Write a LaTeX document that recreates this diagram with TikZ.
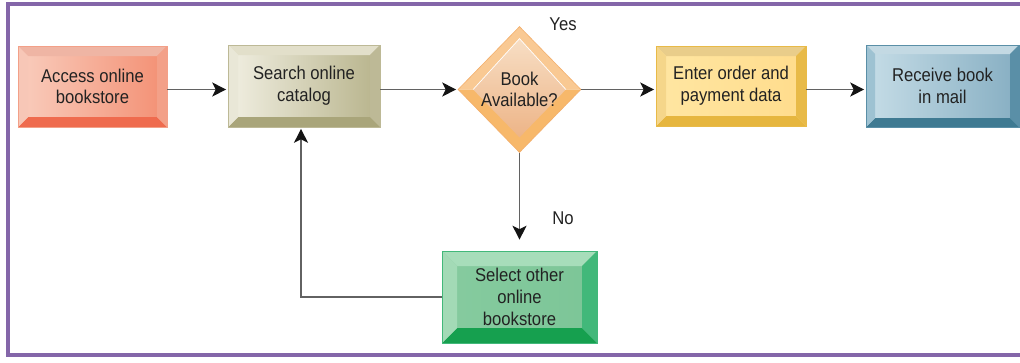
\documentclass[tikz,border=0pt]{standalone}
\usepackage{fontspec}
\setmainfont[FakeStretch=0.9]{Liberation Sans}
\usetikzlibrary{arrows.meta,shapes.geometric}
\definecolor{frame}{HTML}{8466A9}
\definecolor{txt}{HTML}{222222}
\definecolor{lin}{HTML}{626262}
\definecolor{arh}{HTML}{141414}
% red
\definecolor{rFL}{HTML}{F9CDBD}\definecolor{rFR}{HTML}{F38F73}\definecolor{rT}{HTML}{EFB5A4}
\definecolor{rB}{HTML}{EF6B4E}\definecolor{rL}{HTML}{F7C7B7}\definecolor{rR}{HTML}{F3A088}
% olive
\definecolor{oFL}{HTML}{F1EFE2}\definecolor{oFR}{HTML}{B7B38B}\definecolor{oT}{HTML}{E2DFCA}
\definecolor{oB}{HTML}{A9A57A}\definecolor{oL}{HTML}{E9E7D7}\definecolor{oR}{HTML}{BDB996}
% yellow
\definecolor{yFL}{HTML}{FFE6A2}\definecolor{yFR}{HTML}{FFDC8C}\definecolor{yT}{HTML}{E9CD8A}
\definecolor{yB}{HTML}{E6B63F}\definecolor{yL}{HTML}{F5D68A}\definecolor{yR}{HTML}{E8BA48}
% blue
\definecolor{bFL}{HTML}{C6DDE7}\definecolor{bFR}{HTML}{86AEC2}\definecolor{bT}{HTML}{C3D9E3}
\definecolor{bB}{HTML}{3F7A92}\definecolor{bL}{HTML}{9EC2D2}\definecolor{bR}{HTML}{5A8FA7}
% green
\definecolor{gFL}{HTML}{86CB9F}\definecolor{gFR}{HTML}{7CC597}\definecolor{gT}{HTML}{A7DDBA}
\definecolor{gB}{HTML}{16A04F}\definecolor{gL}{HTML}{A3DAB6}\definecolor{gR}{HTML}{42B87A}
% diamond
\definecolor{dT}{HTML}{F9C993}\definecolor{dB}{HTML}{F7B86A}\definecolor{dIT}{HTML}{F7DEC4}
\definecolor{dIB}{HTML}{EDB487}\definecolor{dE}{HTML}{F3AE6A}
\tikzset{
  lbl/.style={font=\fontsize{18.5}{21.7}\selectfont, text=txt, align=center},
  bev/.style n args={7}{rectangle, inner sep=0pt, lbl, draw=#6, line width=0.6pt,
    path picture={
      \shade[left color=#1, right color=#2] (path picture bounding box.south west) rectangle (path picture bounding box.north east);
      \fill[#3] (path picture bounding box.north west) -- (path picture bounding box.north east)
        -- ([shift={(-#7,-#7)}]path picture bounding box.north east) -- ([shift={(#7,-#7)}]path picture bounding box.north west) -- cycle;
      \fill[#4] (path picture bounding box.south west) -- (path picture bounding box.south east)
        -- ([shift={(-#7,#7)}]path picture bounding box.south east) -- ([shift={(#7,#7)}]path picture bounding box.south west) -- cycle;
      \fill[#5] (path picture bounding box.north west) -- (path picture bounding box.south west)
        -- ([shift={(#7,#7)}]path picture bounding box.south west) -- ([shift={(#7,-#7)}]path picture bounding box.north west) -- cycle;
      \fill[#6] (path picture bounding box.north east) -- (path picture bounding box.south east)
        -- ([shift={(-#7,#7)}]path picture bounding box.south east) -- ([shift={(-#7,-#7)}]path picture bounding box.north east) -- cycle;
    }},
  decision/.style={diamond, inner sep=0pt, lbl, draw=dE, line width=0.6pt,
    path picture={
      \fill[dT] (path picture bounding box.west) -- (path picture bounding box.north) -- (path picture bounding box.east) -- cycle;
      \fill[dB] (path picture bounding box.west) -- (path picture bounding box.south) -- (path picture bounding box.east) -- cycle;
      \shade[top color=dIT, bottom color=dIB] ([xshift=15pt]path picture bounding box.west) -- ([yshift=-12pt]path picture bounding box.north)
        -- ([xshift=-15pt]path picture bounding box.east) -- ([yshift=15pt]path picture bounding box.south) -- cycle;
      \draw[white, line width=0.7pt] ([xshift=15pt]path picture bounding box.west) -- ([yshift=-12pt]path picture bounding box.north)
        -- ([xshift=-15pt]path picture bounding box.east);
    }},
  arr/.style={draw=lin, line width=1.4pt, -{Stealth[length=14pt, width=14pt, inset=3.5pt, color=arh, fill=arh]}}
}
\begin{document}
\begin{tikzpicture}[x=1pt, y=-1pt]
\useasboundingbox (0,0) rectangle (1020,362);
\fill[white] (0,0) rectangle (1020,362);
\draw[frame, line width=3.8pt] (1030,4.3) -- (8,4.3) -- (8,355.3) -- (1030,355.3);

\node[bev={rFL}{rFR}{rT}{rB}{rL}{rR}{10pt}, minimum width=149pt, minimum height=81pt] (n1) at (92.5,86.5) {Access online\\bookstore};
\node[bev={oFL}{oFR}{oT}{oB}{oL}{oR}{10pt}, minimum width=152pt, minimum height=82pt] (n2) at (304,86) {Search online\\catalog};
\node[decision, minimum width=123pt, minimum height=126pt] (d) at (519.5,89.5) {Book\\Available?};
\node[bev={yFL}{yFR}{yT}{yB}{yL}{yR}{10pt}, minimum width=150pt, minimum height=80pt] (n4) at (731,86) {Enter order and\\payment data};
\node[bev={bFL}{bFR}{bT}{bB}{bL}{bR}{9pt}, minimum width=153pt, minimum height=82pt] (n5) at (942.5,86) {Receive book\\in mail};
\node[bev={gFL}{gFR}{gT}{gB}{gL}{gR}{15pt}, minimum width=155pt, minimum height=92pt] (n6) at (519.5,297) {Select other\\online\\bookstore};

\node[lbl] (yes) at (563,24) {Yes};
\node[lbl] (no) at (563,218) {No};

\draw[arr, shorten >=1.5pt] (n1.east |- d.center) -- (n2.west |- d.center);
\draw[arr, shorten >=1.5pt] (n2.east |- d.center) -- (d.west);
\draw[arr, shorten >=1.5pt] (d.east) -- (n4.west |- d.center);
\draw[arr, shorten >=1.5pt] (n4.east |- d.center) -- (n5.west |- d.center);
\draw[arr, shorten >=11pt] (d.south) -- (n6.north);
\draw[arr, shorten >=1.5pt] (n6.west) -| ([xshift=-3pt]n2.south);
\end{tikzpicture}
\end{document}
